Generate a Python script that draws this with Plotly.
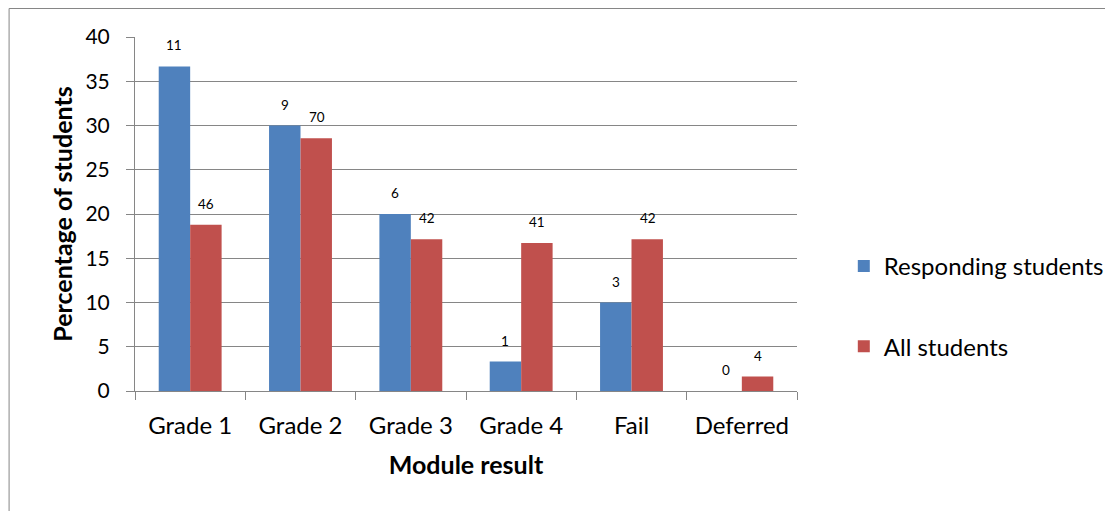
import plotly.graph_objects as go

categories = ["Grade 1", "Grade 2", "Grade 3", "Grade 4", "Fail", "Deferred"]
responding_counts = [11, 9, 6, 1, 3, 0]
all_counts = [46, 70, 42, 41, 42, 4]
responding_pct = [36.67, 30.0, 20.0, 3.33, 10.0, 0.0]
all_pct = [18.78, 28.57, 17.14, 16.73, 17.14, 1.63]
y_ticks = [0, 5, 10, 15, 20, 25, 30, 35, 40]

BLUE = "#4F81BD"
RED = "#C0504D"
GRID = "#868686"
FONT = "Lato"

fig = go.Figure()
fig.add_trace(go.Bar(x=categories, y=responding_pct, name="Responding students",
                     marker=dict(color=BLUE, line=dict(width=0)), legendgroup="a"))
fig.add_trace(go.Bar(x=categories, y=all_pct, name="All students",
                     marker=dict(color=RED, line=dict(width=0)), legendgroup="b"))

for cat, v, n in zip(categories, responding_pct, responding_counts):
    fig.add_annotation(x=cat, y=v, text=str(n), showarrow=False, xshift=-16, yshift=21,
                       font=dict(size=13.5, color="#000000", family=FONT))
for cat, v, n in zip(categories, all_pct, all_counts):
    fig.add_annotation(x=cat, y=v, text=str(n), showarrow=False, xshift=16, yshift=21,
                       font=dict(size=13.5, color="#000000", family=FONT))

# outer chart frame
fig.add_shape(type="rect", xref="paper", yref="paper", x0=-0.1902, x1=1.6, y0=-0.6, y1=1.0805,
              line=dict(color=GRID, width=1), fillcolor="rgba(0,0,0,0)", layer="below")

fig.update_layout(
    width=1113, height=511,
    margin=dict(l=127, r=321, t=29, b=128),
    paper_bgcolor="white", plot_bgcolor="white",
    barmode="group", bargap=0.43, bargroupgap=0,
    font=dict(family=FONT, color="#000000", size=20),
    showlegend=True,
    legend=dict(x=1.0707, xanchor="left", y=0.239, yanchor="middle",
                font=dict(size=24, family=FONT), traceorder="grouped", tracegroupgap=46,
                bgcolor="rgba(0,0,0,0)"),
    xaxis=dict(showline=True, linecolor=GRID, linewidth=1, ticks="outside", ticklen=8,
               tickcolor=GRID, tickson="boundaries", showgrid=False, ticklabelstandoff=13,
               tickfont=dict(size=24, family=FONT),
               title=dict(text="<b>Module result</b>", font=dict(size=25, family=FONT), standoff=18)),
    yaxis=dict(range=[0, 40], tickvals=y_ticks, showline=True, linecolor=GRID, linewidth=1,
               ticks="outside", ticklen=8, tickcolor=GRID, showgrid=True, gridcolor=GRID,
               gridwidth=1, zeroline=False, tickfont=dict(size=21, family=FONT),
               ticklabelstandoff=12,
               title=dict(text="<b>Percentage of students</b>", font=dict(size=25, family=FONT), standoff=5)),
)

fig.write_html("out.html")
